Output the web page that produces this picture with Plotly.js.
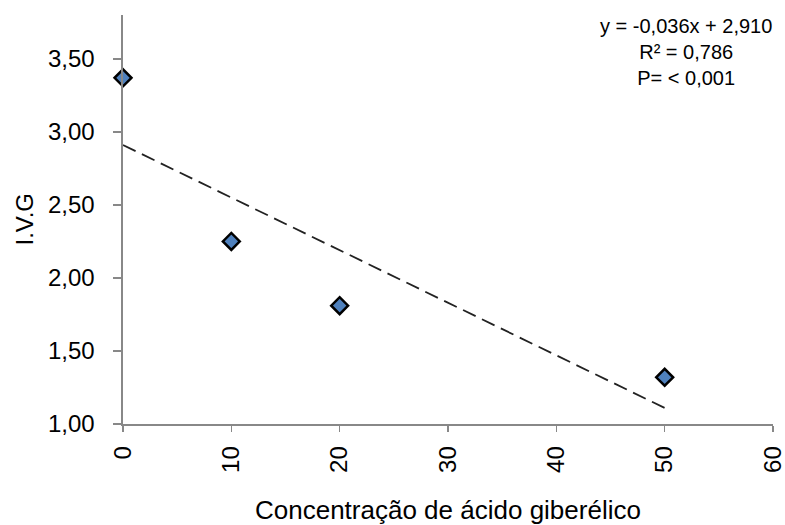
<!DOCTYPE html>
<html><head><meta charset="utf-8">
<script src="https://cdn.plot.ly/plotly-3.0.1.min.js"></script>
<style>html,body{margin:0;padding:0;background:#fff}#c{width:785px;height:525px}</style>
</head><body><div id="c"></div>
<script>
const concentrations = [0, 10, 20, 50];
const ivg = [3.37, 2.25, 1.81, 1.32];
const slope = -0.036;
const intercept = 2.910;
const trendX = [0, 50];
const eqLines = ["y = -0,036x + 2,910", "R² = 0,786", "P= < 0,001"];
const xTicks = [0, 10, 20, 30, 40, 50, 60];
const yTicks = [1.0, 1.5, 2.0, 2.5, 3.0, 3.5];
const xTitle = 'Concentração de ácido giberélico';
const yTitle = 'I.V.G';

const font = "'Liberation Sans', Arial, sans-serif";
const traces = [
  {x: trendX, y: trendX.map(v => slope * v + intercept), mode: 'lines', type: 'scatter',
   line: {color: '#222', width: 1.8, dash: '14px,7px'}, hoverinfo: 'skip', showlegend: false},
  {x: concentrations, y: ivg, mode: 'markers', type: 'scatter', cliponaxis: false,
   marker: {symbol: 'diamond', size: 13, color: '#4F81BD', line: {color: '#000', width: 2.5}}, showlegend: false}
];
const layout = {
  width: 785, height: 525,
  margin: {l: 123, r: 12, t: 15, b: 101},
  paper_bgcolor: '#fff', plot_bgcolor: '#fff',
  separators: ',.',
  font: {family: font, color: '#000', size: 24},
  xaxis: {range: [0, 60], tickvals: xTicks, ticktext: xTicks.map(String), tickangle: -90,
    showgrid: false, zeroline: false, showline: true, linecolor: '#888', linewidth: 1.6,
    ticks: 'outside', ticklen: 6, tickcolor: '#888', tickwidth: 1.6, ticklabelstandoff: 5,
    ticklabeloverflow: 'allow',
    tickfont: {size: 24, family: font}, fixedrange: true},
  yaxis: {range: [1, 3.8], tickvals: yTicks, tickformat: '.2f',
    showgrid: false, zeroline: false, showline: true, linecolor: '#888', linewidth: 1.6,
    ticks: 'outside', ticklen: 8, tickcolor: '#888', tickwidth: 1.6, ticklabelstandoff: 14,
    ticklabeloverflow: 'allow',
    tickfont: {size: 24, family: font}},
  annotations: [
    {xref: 'paper', yref: 'paper', x: 0.8654, y: 1.0, yshift: 2, xanchor: 'center', yanchor: 'top',
     text: eqLines.join('<br>'), showarrow: false, align: 'center',
     font: {size: 20, family: font, color: '#000'}},
    {xref: 'paper', yref: 'paper', x: 0.5, y: -0.2103, xanchor: 'center', yanchor: 'middle',
     text: xTitle, showarrow: false, font: {size: 26, family: font, color: '#000'}},
    {xref: 'paper', yref: 'paper', x: -0.1508, y: 0.5, xanchor: 'center', yanchor: 'middle',
     textangle: -90, text: yTitle, showarrow: false, font: {size: 24, family: font, color: '#000'}}
  ]
};
Plotly.newPlot('c', traces, layout, {displayModeBar: false, staticPlot: true});
</script></body></html>
